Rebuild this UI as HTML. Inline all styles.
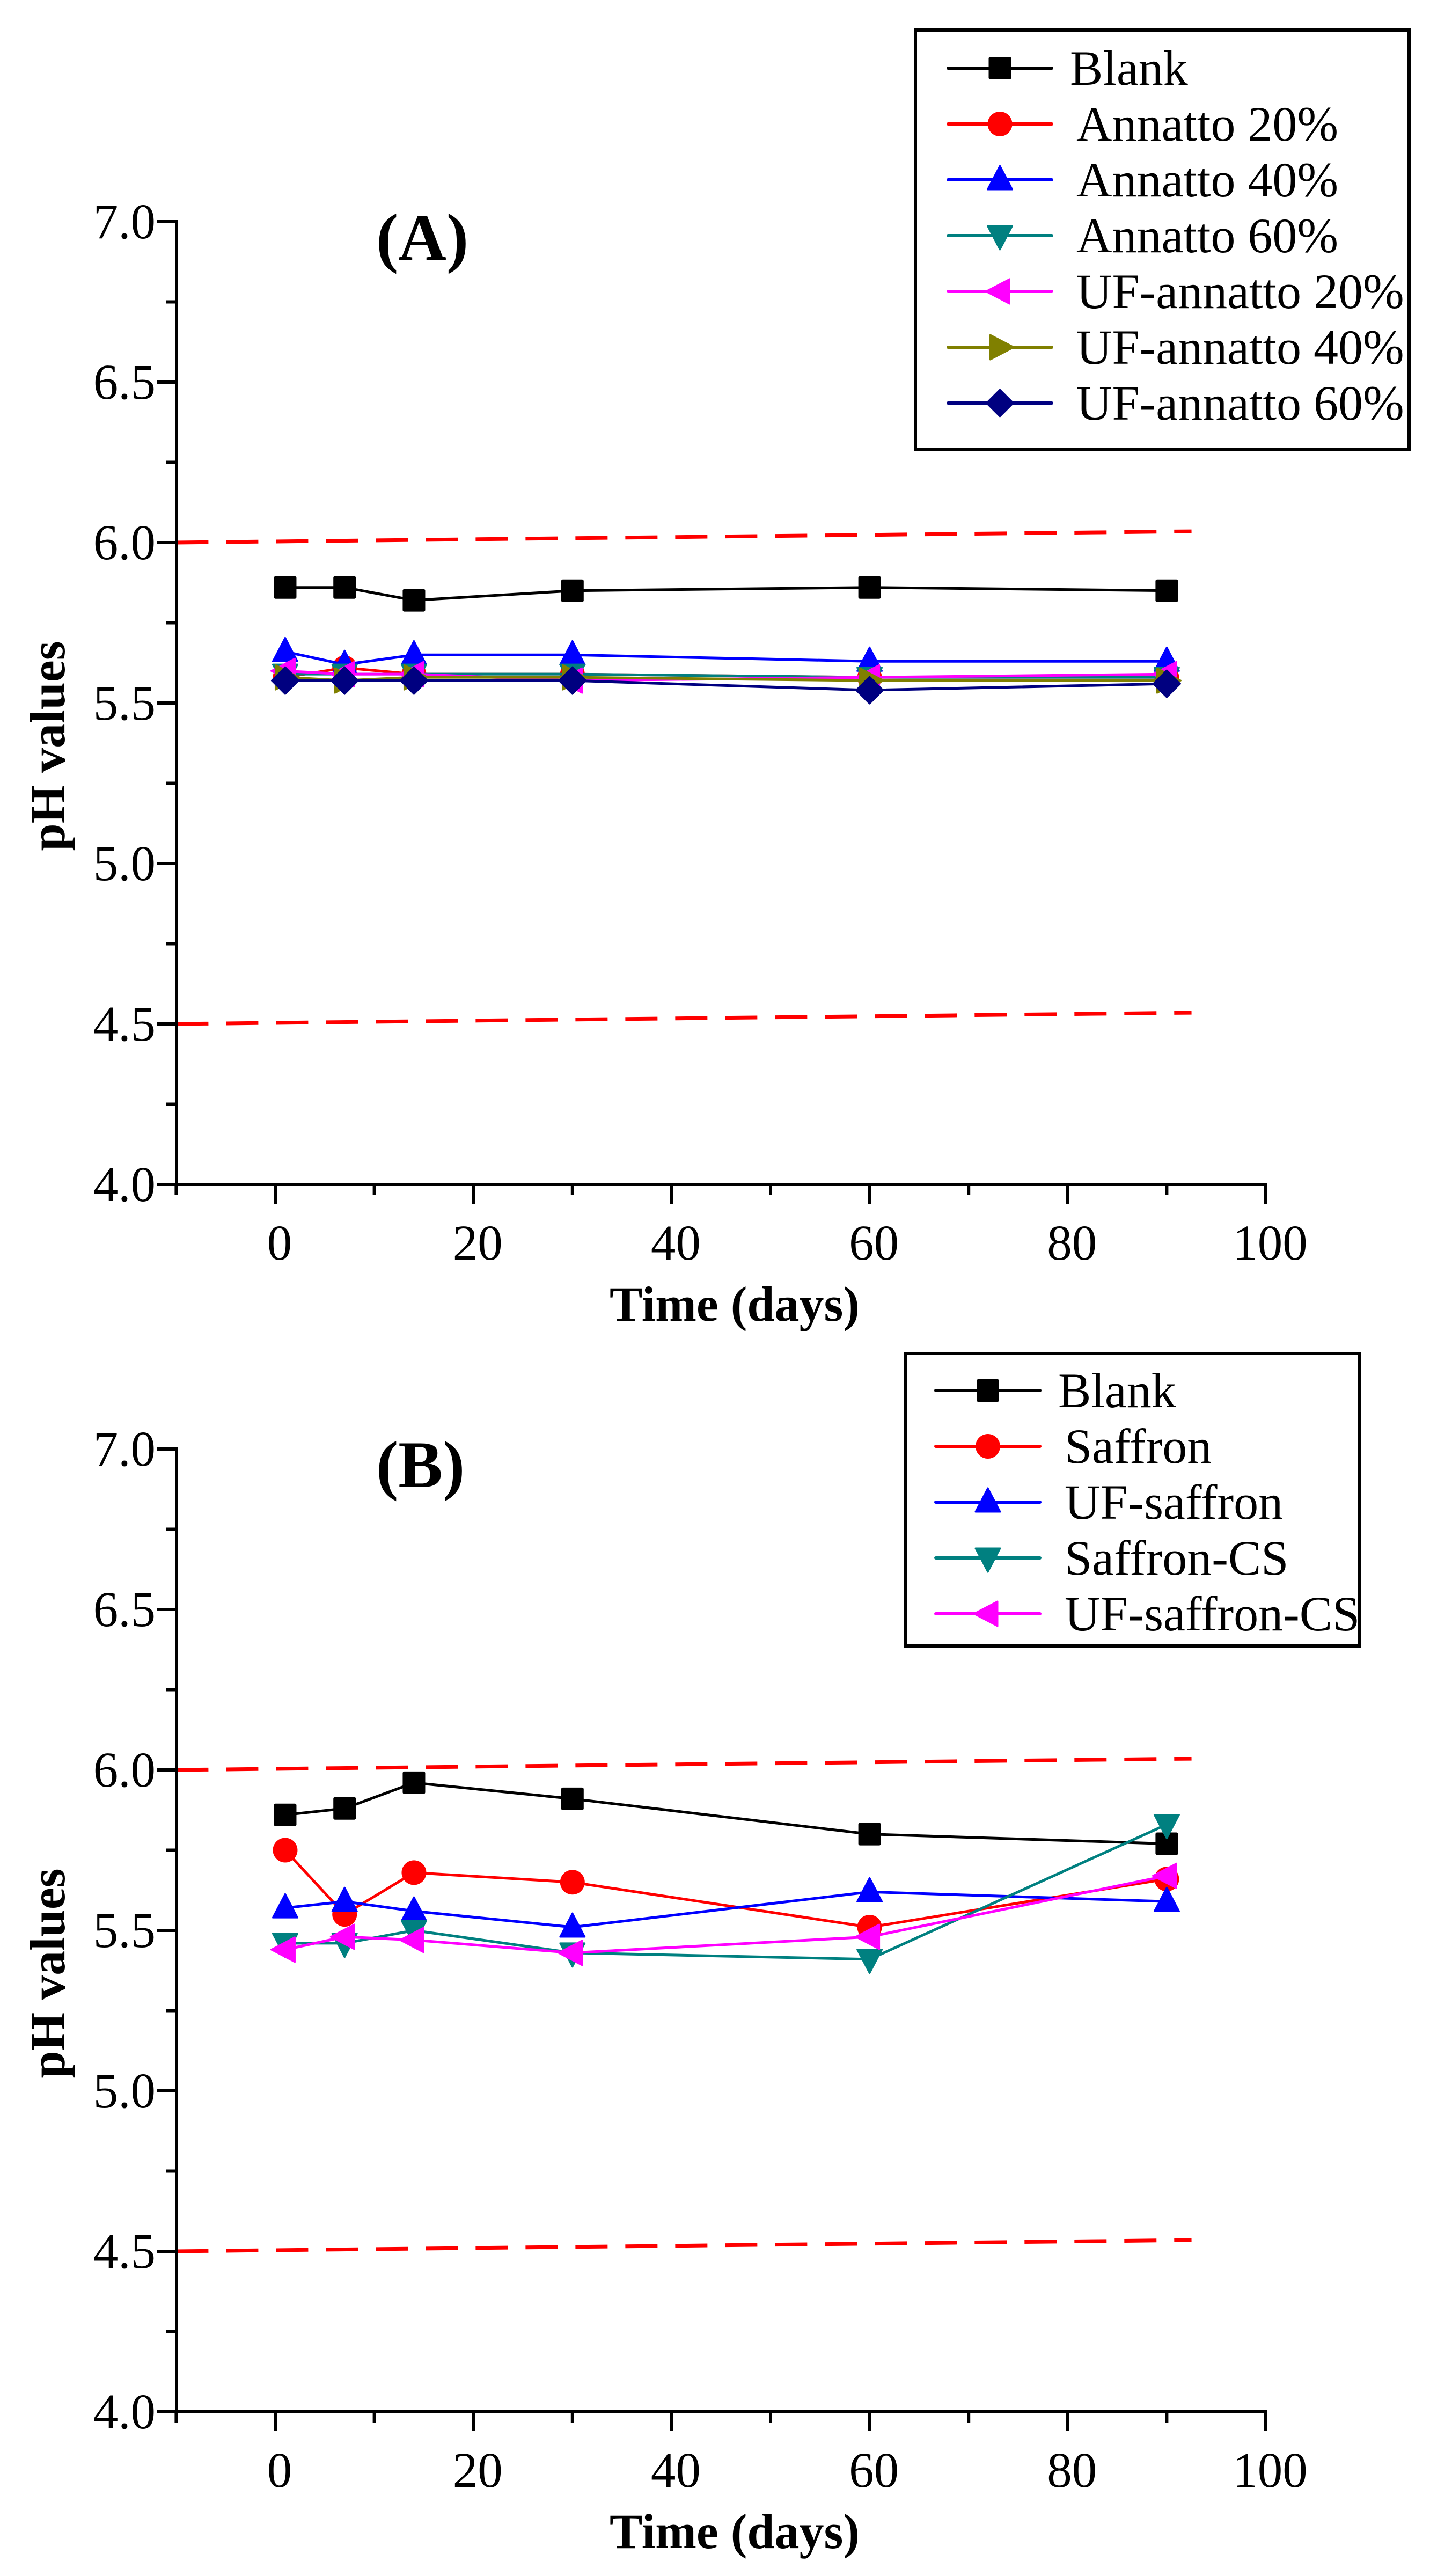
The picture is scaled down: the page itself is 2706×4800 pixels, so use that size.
<!DOCTYPE html>
<html><head><meta charset="utf-8"><style>
html,body{margin:0;padding:0;background:#fff;}
svg{display:block;font-family:"Liberation Serif",serif;}
</style></head><body>
<svg id="fig" width="2706" height="4800" viewBox="0 0 2706 4800" xmlns="http://www.w3.org/2000/svg"></svg>
<script>
const days = [1, 7, 14, 30, 60, 90];
const yTicks = [4.0, 4.5, 5.0, 5.5, 6.0, 6.5, 7.0];
const xTicks = [0, 20, 40, 60, 80, 100];
const limitLow = [4.5, 4.535];
const limitHigh = [6.0, 6.035];
const limitDays = [-10, 92.5];

const aNames = ["Blank","Annatto 20%","Annatto 40%","Annatto 60%","UF-annatto 20%","UF-annatto 40%","UF-annatto 60%"];
const aBlank = [5.86, 5.86, 5.82, 5.85, 5.86, 5.85];
const aAnn20 = [5.58, 5.61, 5.59, 5.59, 5.58, 5.58];
const aAnn40 = [5.66, 5.62, 5.65, 5.65, 5.63, 5.63];
const aAnn60 = [5.59, 5.59, 5.59, 5.59, 5.58, 5.58];
const aUF20 = [5.60, 5.59, 5.59, 5.57, 5.58, 5.59];
const aUF40 = [5.58, 5.57, 5.58, 5.58, 5.57, 5.57];
const aUF60 = [5.57, 5.57, 5.57, 5.57, 5.54, 5.56];

const bNames = ["Blank","Saffron","UF-saffron","Saffron-CS","UF-saffron-CS"];
const bBlank = [5.86, 5.88, 5.96, 5.91, 5.80, 5.77];
const bSaffron = [5.75, 5.55, 5.68, 5.65, 5.51, 5.66];
const bUFSaffron = [5.57, 5.59, 5.56, 5.51, 5.62, 5.59];
const bSaffronCS = [5.46, 5.46, 5.50, 5.43, 5.41, 5.83];
const bUFSaffronCS = [5.44, 5.48, 5.47, 5.43, 5.48, 5.67];

const NS = "http://www.w3.org/2000/svg";
const svg = document.getElementById("fig");
function mk(tag, attrs, parent){
  const e = document.createElementNS(NS, tag);
  for (const k in attrs) e.setAttribute(k, attrs[k]);
  (parent||svg).appendChild(e);
  return e;
}
function marker(g, shape, cx, cy, color){
  const s = 23;
  let e;
  if (shape === "square") e = mk("rect", {x:cx-s+2, y:cy-s+2, width:2*s-4, height:2*s-4, rx:3, fill:color}, g);
  else if (shape === "circle") e = mk("circle", {cx:cx, cy:cy, r:s, fill:color}, g);
  else if (shape === "up") e = mk("polygon", {points:`${cx},${cy-s-3} ${cx+s},${cy+s-5} ${cx-s},${cy+s-5}`, fill:color, "stroke-linejoin":"round", stroke:color, "stroke-width":3}, g);
  else if (shape === "down") e = mk("polygon", {points:`${cx},${cy+s+3} ${cx+s},${cy-s+5} ${cx-s},${cy-s+5}`, fill:color, "stroke-linejoin":"round", stroke:color, "stroke-width":3}, g);
  else if (shape === "left") e = mk("polygon", {points:`${cx-s-3},${cy} ${cx+s-5},${cy-s} ${cx+s-5},${cy+s}`, fill:color, "stroke-linejoin":"round", stroke:color, "stroke-width":3}, g);
  else if (shape === "right") e = mk("polygon", {points:`${cx+s+3},${cy} ${cx-s+5},${cy-s} ${cx-s+5},${cy+s}`, fill:color, "stroke-linejoin":"round", stroke:color, "stroke-width":3}, g);
  else if (shape === "diamond") e = mk("polygon", {points:`${cx},${cy-s-2} ${cx+s+2},${cy} ${cx},${cy+s+2} ${cx-s-2},${cy}`, fill:color, "stroke-linejoin":"round", stroke:color, "stroke-width":3}, g);
  
  
}

function panel(offY, label, labelName, series, legend){
  const x0 = 329, pxDay = 18.46, xAt = d => 513 + d*pxDay;
  const yTop = 413 + offY, pxU = 598, yAt = v => yTop + (7 - v)*pxU;
  const yBot = yAt(4.0);
  const g = mk("g", {});
  
  

  // limit lines
  [limitHigh, limitLow].forEach((lim, i) => {
    const l = mk("line", {x1:xAt(limitDays[0]), y1:yAt(lim[0]), x2:xAt(limitDays[1]), y2:yAt(lim[1]), stroke:"#ff0000", "stroke-width":7, "stroke-dasharray":"60 33"}, g);
    
    
  });

  // axes
  const ya = mk("line", {x1:x0, y1:yTop-3, x2:x0, y2:yBot+20, stroke:"#000", "stroke-width":6}, g);
  
  
  const xa = mk("line", {x1:293, y1:yBot, x2:xAt(100)+3, y2:yBot, stroke:"#000", "stroke-width":6}, g);
  
  
  for (let v = 4.0; v <= 7.001; v += 0.25) {
    const major = Math.abs(v*2 - Math.round(v*2)) < 1e-6;
    mk("line", {x1:x0 - (major?36:20), y1:yAt(v), x2:x0, y2:yAt(v), stroke:"#000", "stroke-width":6}, g);
  }
  yTicks.forEach(v => {
    const t = mk("text", {x:290, y:yAt(v)+31, "text-anchor":"end", "font-size":93}, g);
    t.textContent = v.toFixed(1);
    
    
  });
  for (let d = -10; d <= 100; d += 10) {
    const major = d % 20 === 0;
    mk("line", {x1:xAt(d), y1:yBot, x2:xAt(d), y2:yBot + (major?36:20), stroke:"#000", "stroke-width":6}, g);
  }
  xTicks.forEach(d => {
    const t = mk("text", {x:xAt(d)+8, y:yBot+140, "text-anchor":"middle", "font-size":93}, g);
    t.textContent = String(d);
    
    
  });
  const xt = mk("text", {x:1369, y:yBot+254, "text-anchor":"middle", "font-size":92, "font-weight":"bold"}, g);
  xt.textContent = "Time (days)";
  
  
  const yt = mk("text", {x:0, y:0, "text-anchor":"middle", "font-size":92, "font-weight":"bold", transform:`translate(120,${1390+offY}) rotate(-90)`}, g);
  yt.textContent = "pH values";
  
  
  const pl = mk("text", {x:701, y:484+offY, "font-size":124, "font-weight":"bold"}, g);
  pl.textContent = label;
  
  

  // series
  series.forEach(s => {
    const sg = mk("g", {}, g);
    
    
    const pts = s.vals.map((v,i) => `${xAt(days[i])},${yAt(v)}`).join(" ");
    const pl2 = mk("polyline", {points:pts, fill:"none", stroke:s.color, "stroke-width":5, "stroke-linejoin":"round"}, sg);
    
    
    s.vals.forEach((v,i) => marker(sg, s.shape, xAt(days[i]), yAt(v), s.color));
  });

  // legend
  const lg = mk("g", {}, g);
  
  
  mk("rect", {x:legend.x, y:legend.y+offY, width:legend.w, height:legend.h, fill:"#fff", stroke:"#000", "stroke-width":6}, lg);
  series.forEach((s, i) => {
    const cy = legend.row0 + offY + i*104;
    const eg = mk("g", {}, lg);
    
    
    mk("line", {x1:legend.lx1, y1:cy, x2:legend.lx2, y2:cy, stroke:s.color, "stroke-width":6, "stroke-linecap":"round"}, eg);
    marker(eg, s.shape, (legend.lx1+legend.lx2)/2, cy, s.color);
    const t = mk("text", {x:legend.tx + (i===0?0:12), y:cy+31, "font-size":92}, eg);
    t.textContent = s.name;
  });
}

panel(0, "(A)", "panel-a", [
  {id:"blank", name:aNames[0], vals:aBlank, color:"#000000", shape:"square"},
  {id:"annatto-20", name:aNames[1], vals:aAnn20, color:"#ff0000", shape:"circle"},
  {id:"annatto-40", name:aNames[2], vals:aAnn40, color:"#0000ff", shape:"up"},
  {id:"annatto-60", name:aNames[3], vals:aAnn60, color:"#008080", shape:"down"},
  {id:"uf-annatto-20", name:aNames[4], vals:aUF20, color:"#ff00ff", shape:"left"},
  {id:"uf-annatto-40", name:aNames[5], vals:aUF40, color:"#808000", shape:"right"},
  {id:"uf-annatto-60", name:aNames[6], vals:aUF60, color:"#000080", shape:"diamond"}
], {x:1706, y:56, w:920, h:781, row0:127, lx1:1767, lx2:1960, tx:1994});

panel(2287, "(B)", "panel-b", [
  {id:"blank", name:bNames[0], vals:bBlank, color:"#000000", shape:"square"},
  {id:"saffron", name:bNames[1], vals:bSaffron, color:"#ff0000", shape:"circle"},
  {id:"uf-saffron", name:bNames[2], vals:bUFSaffron, color:"#0000ff", shape:"up"},
  {id:"saffron-cs", name:bNames[3], vals:bSaffronCS, color:"#008080", shape:"down"},
  {id:"uf-saffron-cs", name:bNames[4], vals:bUFSaffronCS, color:"#ff00ff", shape:"left"}
], {x:1687, y:235, w:846, h:545, row0:304, lx1:1744, lx2:1938, tx:1972});
</script>
</body></html>
